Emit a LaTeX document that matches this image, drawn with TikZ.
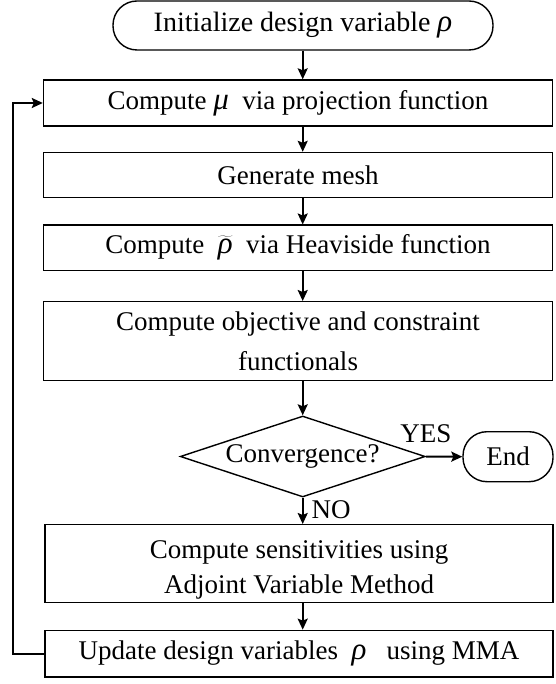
\documentclass[tikz,border=0pt]{standalone}
\usepackage{fontspec}
\setmainfont{Liberation Serif}
\usetikzlibrary{shapes.geometric,arrows.meta,calc}
\newcommand{\grk}[1]{{\fontsize{31}{31}\selectfont\itshape #1}}
\newcommand{\rhotil}{$\widetilde{\mbox{\grk{ρ}}}$}
\begin{document}
\begin{tikzpicture}[x=1pt,y=-1pt,
  every node/.style={font=\fontsize{27}{35}\selectfont, inner sep=0pt},
  procbox/.style={draw, line width=1.4pt, minimum width=509pt, align=center},
  termbox/.style={draw, line width=1.4pt, rounded corners=24pt},
  decbox/.style={draw, diamond, line width=1.4pt, minimum width=245pt, minimum height=81pt, aspect=3},
  flow/.style={line width=2pt, -{Stealth[length=11pt,width=10pt,inset=2pt]}},
  lbl/.style={font=\fontsize{27}{30}\selectfont}
]
\useasboundingbox (0,0) rectangle (555,684);
\node[termbox, minimum width=380pt, minimum height=49pt, font=\fontsize{28}{35}\selectfont] (start) at (303,25.5) {Initialize design variable \grk{ρ}};
\node[procbox, minimum height=46pt] (mu) at (298,103) {Compute \grk{μ}\ \ via projection function};
\node[procbox, minimum height=45pt] (mesh) at (298,175) {Generate mesh};
\node[procbox, minimum height=45pt] (heav) at (298,247.7) {Compute \ \rhotil\ \ via Heaviside function};
\node[procbox, minimum height=78.6pt] (obj) at (298,341) {Compute objective and constraint\\[5pt] functionals};
\node[decbox] (conv) at (302.7,456.5) {};
\node at (302.7,456.5) {Convergence?};
\node[termbox, minimum width=90pt, minimum height=50pt] (end) at (508,456.7) {End};
\node[procbox, minimum width=508pt, minimum height=77.6pt] (sens) at (299,563.5) {\rule{0pt}{30pt}Compute sensitivities using\\ Adjoint Variable Method};
\node[procbox, minimum width=508pt, minimum height=46.7pt] (upd) at (299,653.7) {Update design variables \ \grk{ρ}\ \ \ using MMA};
\coordinate (ax) at (302.7,0);
\coordinate (loop) at (12.7,0);
\draw[flow] (start.south -| ax) -- (mu.north -| ax);
\draw[flow] (mu.south -| ax) -- (mesh.north -| ax);
\draw[flow] (mesh.south -| ax) -- (heav.north -| ax);
\draw[flow] (heav.south -| ax) -- (obj.north -| ax);
\draw[flow] (obj.south -| ax) -- (conv.north);
\draw[flow] (conv.east) -- node[lbl, above=13pt, pos=0] {YES} (end.west);
\draw[flow] (conv.south) -- node[lbl, right=8pt, pos=0.45] {NO} (sens.north -| ax);
\draw[flow] (sens.south -| ax) -- (upd.north -| ax);
\draw[flow] (upd.west) -- (upd.west -| loop) -- (mu.west -| loop) -- (mu.west);
\end{tikzpicture}
\end{document}
